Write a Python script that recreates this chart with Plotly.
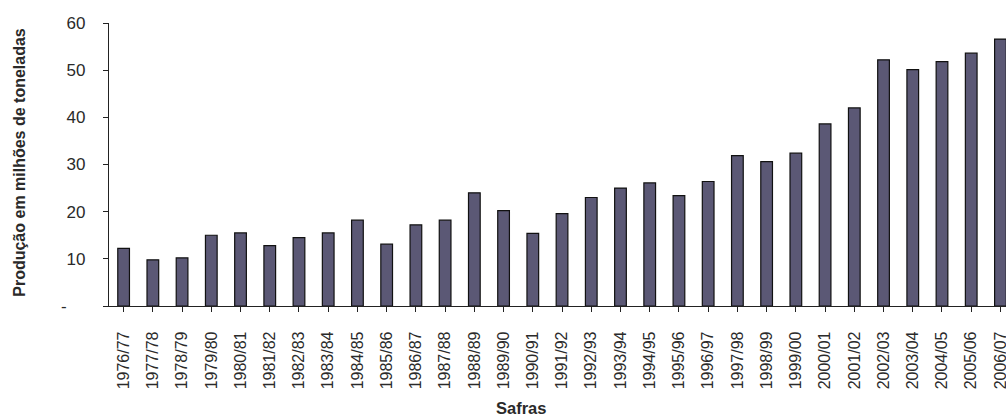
import plotly.graph_objects as go

safras = ["1976/77", "1977/78", "1978/79", "1979/80", "1980/81", "1981/82", "1982/83",
          "1983/84", "1984/85", "1985/86", "1986/87", "1987/88", "1988/89", "1989/90",
          "1990/91", "1991/92", "1992/93", "1993/94", "1994/95", "1995/96", "1996/97",
          "1997/98", "1998/99", "1999/00", "2000/01", "2001/02", "2002/03", "2003/04",
          "2004/05", "2005/06", "2006/07"]
producao = [12.2, 9.8, 10.2, 15.0, 15.5, 12.8, 14.5,
            15.5, 18.2, 13.1, 17.2, 18.2, 24.0, 20.2,
            15.4, 19.6, 23.0, 25.0, 26.1, 23.4, 26.4,
            31.9, 30.6, 32.4, 38.6, 42.0, 52.2, 50.1,
            51.8, 53.6, 56.6]
y_ticks = [0, 10, 20, 30, 40, 50, 60]
y_ticktext = ["-\u00a0\u00a0\u00a0\u00a0", "10", "20", "30", "40", "50", "60"]

W, H = 1006, 418
# plot area in window pixels
PX0, PX1, PY0, PY1 = 109, 1006, 23, 306.5
L, R, T, B = PX0, W - PX1, PY0, H - PY1
PW, PH = PX1 - PX0, PY1 - PY0

fig = go.Figure()
fig.add_trace(go.Bar(
    x=list(range(len(safras))), y=producao,
    marker=dict(color="#5b5875", line=dict(color="#111111", width=1.2)),
    width=0.4,
))

fig.update_layout(
    width=W, height=H,
    margin=dict(l=L, r=R, t=T, b=B, pad=0),
    paper_bgcolor="white", plot_bgcolor="white",
    showlegend=False,
    font=dict(family="Liberation Sans, Arial, sans-serif", color="#2a2a2a"),
    xaxis=dict(
        range=[-0.5, 30.19],
        tickmode="array",
        tickvals=list(range(len(safras))),
        ticktext=safras,
        tickangle=-90,
        tickfont=dict(size=16, color="#2a2a2a"),
        ticks="outside", ticklen=5, tickcolor="#222", tickwidth=1,
        tickson="boundaries",
        showline=True, linecolor="#222", linewidth=1.2,
        showgrid=False, zeroline=False,
        ticklabelstandoff=13,
        ticklabeloverflow="allow",
        automargin=False,
    ),
    yaxis=dict(
        range=[0, 60],
        tickmode="array",
        tickvals=y_ticks,
        ticktext=y_ticktext,
        tickfont=dict(size=17, color="#2a2a2a"),
        ticks="outside", ticklen=5, tickcolor="#222", tickwidth=1,
        showline=True, linecolor="#222", linewidth=1.2,
        showgrid=False, zeroline=False,
        ticklabelstandoff=14,
        automargin=False,
    ),
    annotations=[
        dict(text="<b>Safras</b>", xref="paper", yref="paper",
             x=(521 - PX0) / PW, y=(PY1 - 409) / PH,
             xanchor="center", yanchor="middle", showarrow=False,
             font=dict(size=16.5, color="#2a2a2a")),
        dict(text="<b>Produção em milhões de toneladas</b>", xref="paper", yref="paper",
             x=(20 - PX0) / PW, y=(PY1 - 163) / PH,
             xanchor="center", yanchor="middle", showarrow=False, textangle=-90,
             font=dict(size=16, color="#2a2a2a")),
    ],
)

fig.write_html(
    "out.html",
    config={"displayModeBar": False},
    post_script="document.body.style.margin='0';document.body.style.overflow='hidden';",
)
